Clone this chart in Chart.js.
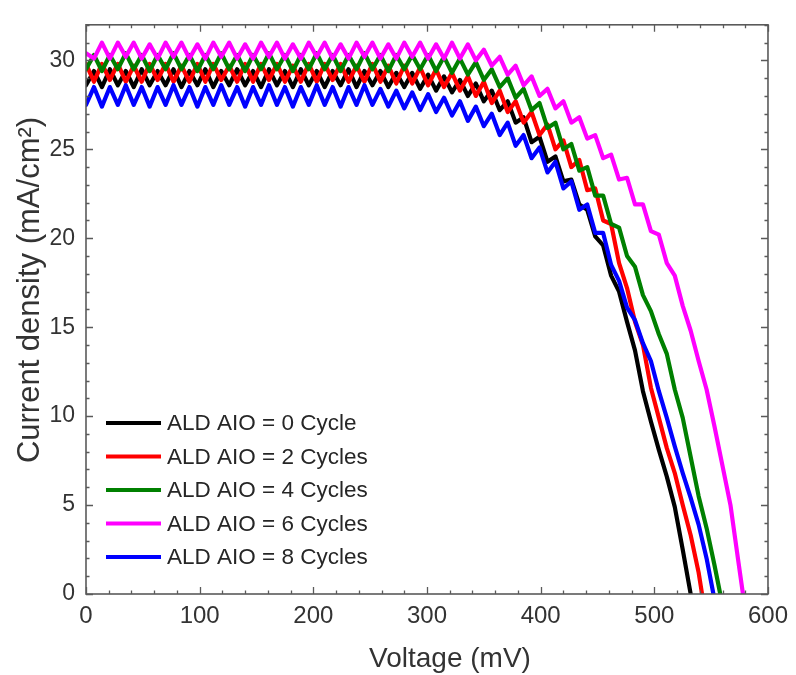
<!DOCTYPE html>
<html><head><meta charset="utf-8">
<script src="https://cdn.jsdelivr.net/npm/chart.js@4/dist/chart.umd.min.js"></script>
<style>html,body{margin:0;padding:0;background:#fff;}#wrap{width:796px;height:675px;}</style>
</head><body><div id="wrap"><canvas id="c" width="796" height="675"></canvas></div>
<script>
// Voltage grid (mV)
const voltage = [0,7,14,21,28,35,42,49,56,63,70,77,84,91,98,105,112,119,126,133,140,147,154,161,168,175,182,189,196,203,210,217,224,231,238,245,252,259,266,273,280,287,294,301,308,315,322,329,336,343,350,357,364,371,378,385,392,399,406,413,420,427,434,441,448,455,462,469,476,483,490,497,504,511,518,525,532,539,546,553,560,567,574];

const seriesLabels = ['ALD AIO = 0 Cycle','ALD AIO = 2 Cycles','ALD AIO = 4 Cycles','ALD AIO = 6 Cycles','ALD AIO = 8 Cycles'];
const seriesColors = ['#000000','#ff0000','#008000','#ff00ff','#0000ff'];
// open-circuit voltage (mV) where each curve reaches 0
const voc = [532,542,558,578,552];

const xTitle = 'Voltage (mV)';
const yTitle = 'Current density (mA/cm²)';

// Current density (mA/cm2) on the voltage grid
const j0 = [28.6,29.4,28.5,29.5,28.6,29.4,28.5,29.5,28.6,29.4,
28.6,29.5,28.5,29.4,28.6,29.5,28.5,29.4,28.6,29.5,
28.6,29.4,28.5,29.5,28.6,29.4,28.5,29.5,28.6,29.4,
28.5,29.4,28.6,29.5,28.5,29.4,28.6,29.4,28.5,29.3,
28.5,29.3,28.4,29.2,28.3,29.1,28.2,28.9,28.0,28.7,
27.7,28.3,27.2,27.7,26.5,26.8,25.4,25.7,24.3,24.6,
23.2,23.3,21.9,21.6,20.1,19.6,17.9,17.0,15.3,13.7,
11.4,9.7,8.1,6.6,4.9,2.5];
const j2 = [29.8,28.8,29.8,28.9,29.8,28.8,29.7,28.8,29.8,28.9,
29.8,28.8,29.7,28.8,29.8,28.8,29.8,28.9,29.7,28.8,
29.8,28.8,29.8,28.9,29.8,28.8,29.7,28.8,29.8,28.8,
29.8,28.9,29.8,28.8,29.7,28.8,29.8,28.8,29.7,28.7,
29.7,28.7,29.6,28.6,29.5,28.5,29.3,28.3,29.1,28.0,
28.8,27.6,28.3,27.1,27.7,26.5,27.1,25.8,26.4,25.0,
25.5,24.0,24.4,22.7,22.8,21.0,20.8,18.6,17.2,15.3,
14.0,11.6,9.9,8.2,6.8,5.0,3.3,1.2];
const j4 = [29.5,30.3,29.4,30.3,29.5,30.4,29.5,30.3,29.4,30.3,
29.5,30.4,29.5,30.3,29.4,30.3,29.5,30.4,29.5,30.3,
29.4,30.3,29.5,30.4,29.5,30.3,29.4,30.3,29.5,30.4,
29.5,30.3,29.4,30.3,29.5,30.4,29.5,30.3,29.4,30.3,
29.5,30.3,29.5,30.3,29.4,30.2,29.3,30.1,29.2,29.9,
28.9,29.5,28.5,29.0,27.9,28.4,27.2,27.6,26.2,26.5,
25.0,25.3,23.8,24.0,22.4,22.4,20.8,20.6,19.0,18.4,
16.8,15.9,14.6,13.5,11.5,9.9,7.7,5.5,3.7,1.6];
const j6 = [30.4,30.1,31.0,30.1,31.0,30.2,31.0,30.1,30.9,30.1,
31.0,30.2,31.0,30.1,30.9,30.1,31.0,30.2,31.0,30.1,
30.9,30.1,31.0,30.2,31.0,30.1,30.9,30.1,31.0,30.2,
31.0,30.1,30.9,30.1,31.0,30.2,31.0,30.1,30.9,30.1,
31.0,30.2,31.0,30.1,30.9,30.1,31.0,30.1,30.9,30.0,
30.6,29.7,30.2,29.2,29.7,28.6,29.1,28.0,28.4,27.3,
27.7,26.5,26.8,25.6,25.8,24.5,24.7,23.3,23.4,21.9,
21.9,20.4,20.2,18.6,17.9,16.2,14.8,13.1,11.5,9.4,
7.2,5.0,1.8];
const j8 = [27.5,28.5,27.4,28.5,27.5,28.6,27.5,28.5,27.4,28.5,
27.5,28.6,27.5,28.5,27.4,28.5,27.5,28.6,27.5,28.5,
27.4,28.5,27.5,28.6,27.5,28.5,27.4,28.5,27.5,28.6,
27.5,28.5,27.4,28.5,27.5,28.6,27.5,28.4,27.4,28.3,
27.3,28.2,27.2,28.1,27.1,27.9,26.9,27.7,26.6,27.4,
26.3,27.0,25.8,26.5,25.2,25.8,24.5,25.1,23.7,24.3,
22.8,23.2,21.6,21.9,20.3,20.3,18.5,17.6,16.1,15.4,
14.1,13.1,11.4,9.9,8.3,6.8,5.4,3.9,2.0];

const seriesValues = [j0, j2, j4, j6, j8];

// axis tick settings
const xMin = 0, xMax = 600, xMajor = 100, xMinor = 20;
const yMin = 0, yMax = 32, yMajor = 5, yMinor = 1;

const FONT = "'Liberation Sans', Arial, sans-serif";

const datasets = seriesValues.map((vals, k) => {
  const pts = vals.map((j, i) => ({x: voltage[i], y: j}));
  pts.push({x: voc[k], y: 0});
  return {
    label: seriesLabels[k],
    data: pts,
    borderColor: seriesColors[k],
    backgroundColor: seriesColors[k],
    borderWidth: 4.2,
    pointRadius: 0,
    tension: 0,
    fill: false,
    borderJoinStyle: 'round',
    borderCapStyle: 'round',
    order: seriesValues.length - k
  };
});

const frameTicks = {
  id: 'frameTicks',
  afterDatasetsDraw(chart) {
    const {ctx, chartArea: a, scales: {x, y}} = chart;
    ctx.save();
    ctx.strokeStyle = '#5a5a5a';
    ctx.lineWidth = 1.6;
    ctx.strokeRect(a.left, a.top, a.right - a.left, a.bottom - a.top);
    ctx.lineWidth = 1.3;
    ctx.beginPath();
    for (let v = xMin; v <= xMax; v += xMinor) {
      const px = Math.round(x.getPixelForValue(v)) + 0.5;
      const len = v % xMajor === 0 ? 7 : 3.5;
      ctx.moveTo(px, a.bottom); ctx.lineTo(px, a.bottom - len);
      ctx.moveTo(px, a.top); ctx.lineTo(px, a.top + len);
    }
    for (let v = yMin; v <= yMax; v += yMinor) {
      const py = Math.round(y.getPixelForValue(v)) + 0.5;
      const len = v % yMajor === 0 ? 7 : 3.5;
      ctx.moveTo(a.left, py); ctx.lineTo(a.left + len, py);
      ctx.moveTo(a.right, py); ctx.lineTo(a.right - len, py);
    }
    ctx.stroke();
    ctx.restore();
  },
  afterDraw(chart) {
    const {ctx} = chart;
    ctx.save();
    // legend (inside plot, lower left)
    const x0 = 106, x1 = 161, tx = 167, y0 = 423, dy = 33.5;
    ctx.font = '22.5px ' + FONT;
    ctx.textBaseline = 'middle';
    ctx.textAlign = 'left';
    chart.data.datasets.forEach((ds, i) => {
      const yy = y0 + i * dy;
      ctx.strokeStyle = ds.borderColor;
      ctx.lineWidth = 4;
      ctx.beginPath(); ctx.moveTo(x0, yy); ctx.lineTo(x1, yy); ctx.stroke();
      ctx.fillStyle = '#262626';
      ctx.fillText(ds.label, tx, yy + 1);
    });
    // axis titles
    ctx.fillStyle = '#333';
    ctx.textAlign = 'center';
    ctx.textBaseline = 'middle';
    ctx.font = '28px ' + FONT;
    ctx.fillText(xTitle, 450, 659);
    ctx.translate(30, 290);
    ctx.rotate(-Math.PI / 2);
    ctx.font = '31px ' + FONT;
    ctx.fillText(yTitle, 0, 0);
    ctx.restore();
  }
};

new Chart(document.getElementById('c'), {
  type: 'line',
  data: {datasets},
  options: {
    responsive: false,
    devicePixelRatio: 1,
    animation: false,
    layout: {padding: {left: 0, right: 26, top: 15, bottom: 0}},
    plugins: {legend: {display: false}, tooltip: {enabled: false}},
    scales: {
      x: {
        type: 'linear', min: xMin, max: xMax,
        grid: {display: false, drawTicks: false},
        border: {display: false},
        ticks: {stepSize: xMajor, padding: 8, color: '#333', font: {family: FONT, size: 24}, maxRotation: 0},
        title: {display: false},
        afterFit(s) { s.height = 81; }
      },
      y: {
        type: 'linear', min: yMin, max: yMax,
        grid: {display: false, drawTicks: false},
        border: {display: false},
        ticks: {stepSize: yMajor, padding: 11, color: '#333', font: {family: FONT, size: 23}},
        afterBuildTicks(s) { s.ticks = s.ticks.filter(t => t.value % yMajor === 0); },
        title: {display: false},
        afterFit(s) { s.width = 86; }
      }
    }
  },
  plugins: [frameTicks]
});
</script>
</body></html>
